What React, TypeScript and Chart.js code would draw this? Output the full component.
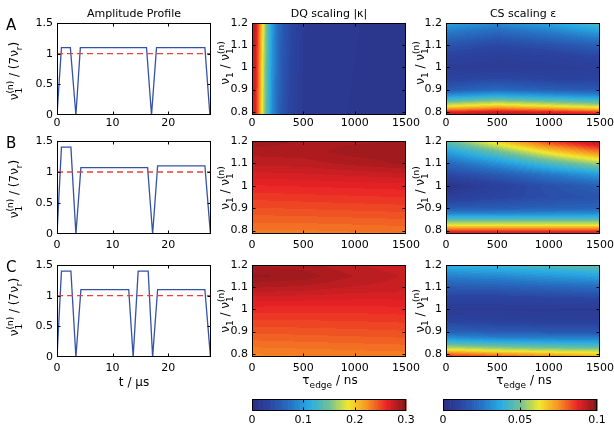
import React, { useEffect, useRef } from "react";
import { Chart, registerables } from "chart.js";
Chart.register(...registerables);

const W = 614;
const H = 429;
const FONT = '"DejaVu Sans", "Liberation Sans", sans-serif';

// ---------------- data ----------------
const timeTicks = [0, 10, 20];
const ampTicks = [0, 0.5, 1, 1.5];
const timeMax = 27.7;
const nominalLevel = 1;

const profileTimeA = [0, 0.8, 2.4, 3.4, 4.2, 16.1, 17.0, 17.9, 26.6, 27.5];
const profileAmpA = [0, 1.1, 1.1, 0, 1.1, 1.1, 0, 1.1, 1.1, 0];
const profileTimeB = [0, 0.8, 2.5, 3.4, 4.3, 16.3, 17.2, 18.1, 26.6, 27.6];
const profileAmpB = [0, 1.4, 1.4, 0, 1.07, 1.07, 0, 1.1, 1.1, 0];
const profileTimeC = [0, 0.8, 2.5, 3.4, 4.3, 12.9, 13.7, 14.6, 16.4, 17.2, 18.1, 26.6, 27.6];
const profileAmpC = [0, 1.4, 1.4, 0, 1.1, 1.1, 0, 1.4, 1.4, 0, 1.1, 1.1, 0];

const tauTicks = [0, 500, 1000, 1500];
const ratioTicks = [0.8, 0.9, 1, 1.1, 1.2];
const tauMax = 1500;
const ratioMin = 0.785;
const ratioMax = 1.2;
const dqTicks = [0, 0.1, 0.2, 0.3];
const dqMax = 0.3;
const csTicks = [0, 0.05, 0.1];
const csMax = 0.1;

// DQ |kappa|, row A (rows = ratio, cols = tau)
const dqTauA = [0, 25, 50, 75, 100, 125, 150, 175, 200, 250, 300, 400, 500, 1500];
const dqRatioA = [0.785, 1.0, 1.2];
const dqA = [
  [0.26, 0.27, 0.25, 0.22, 0.185, 0.155, 0.13, 0.11, 0.09, 0.066, 0.047, 0.028, 0.017, 0.01],
  [0.265, 0.275, 0.255, 0.225, 0.19, 0.16, 0.135, 0.115, 0.095, 0.07, 0.05, 0.03, 0.018, 0.01],
  [0.27, 0.28, 0.26, 0.232, 0.198, 0.167, 0.14, 0.12, 0.1, 0.073, 0.052, 0.032, 0.019, 0.01],
];

const mapTau = [0, 500, 1000, 1500];
const dqRatioBC = [0.785, 0.8, 0.9, 1.0, 1.05, 1.1, 1.15, 1.2];
const dqB = [
  [0.232, 0.232, 0.233, 0.234],
  [0.234, 0.234, 0.235, 0.236],
  [0.248, 0.249, 0.25, 0.251],
  [0.262, 0.263, 0.264, 0.265],
  [0.27, 0.271, 0.273, 0.275],
  [0.278, 0.279, 0.283, 0.287],
  [0.283, 0.284, 0.288, 0.29],
  [0.29, 0.285, 0.285, 0.286],
];
const dqC = [
  [0.228, 0.229, 0.23, 0.231],
  [0.23, 0.231, 0.232, 0.233],
  [0.245, 0.246, 0.247, 0.248],
  [0.26, 0.26, 0.26, 0.261],
  [0.27, 0.269, 0.268, 0.268],
  [0.282, 0.28, 0.276, 0.274],
  [0.292, 0.289, 0.281, 0.276],
  [0.285, 0.283, 0.277, 0.273],
];

const csRatio = [0.785, 0.8, 0.81, 0.825, 0.85, 0.875, 0.9, 0.95, 1.0, 1.05, 1.1, 1.15, 1.2];
const csA = [
  [0.095, 0.097, 0.095, 0.092],
  [0.087, 0.09, 0.087, 0.083],
  [0.076, 0.081, 0.077, 0.071],
  [0.062, 0.068, 0.063, 0.058],
  [0.046, 0.051, 0.047, 0.043],
  [0.031, 0.036, 0.032, 0.029],
  [0.018, 0.022, 0.019, 0.017],
  [0.01, 0.012, 0.01, 0.01],
  [0.007, 0.007, 0.007, 0.008],
  [0.01, 0.008, 0.009, 0.012],
  [0.016, 0.012, 0.015, 0.02],
  [0.025, 0.02, 0.025, 0.032],
  [0.035, 0.03, 0.036, 0.045],
];
const csB = [
  [0.092, 0.092, 0.092, 0.092],
  [0.084, 0.084, 0.084, 0.084],
  [0.075, 0.075, 0.075, 0.075],
  [0.062, 0.062, 0.062, 0.062],
  [0.046, 0.046, 0.046, 0.046],
  [0.03, 0.03, 0.031, 0.032],
  [0.018, 0.019, 0.02, 0.021],
  [0.008, 0.011, 0.014, 0.016],
  [0.003, 0.009, 0.015, 0.02],
  [0.012, 0.018, 0.026, 0.034],
  [0.022, 0.032, 0.044, 0.055],
  [0.034, 0.048, 0.064, 0.077],
  [0.047, 0.067, 0.085, 0.097],
];
const csC = [
  [0.088, 0.083, 0.078, 0.072],
  [0.078, 0.073, 0.068, 0.065],
  [0.069, 0.064, 0.061, 0.059],
  [0.058, 0.054, 0.051, 0.049],
  [0.043, 0.04, 0.038, 0.037],
  [0.03, 0.027, 0.026, 0.026],
  [0.02, 0.018, 0.017, 0.017],
  [0.01, 0.009, 0.008, 0.008],
  [0.006, 0.006, 0.006, 0.006],
  [0.01, 0.01, 0.011, 0.012],
  [0.018, 0.019, 0.021, 0.023],
  [0.028, 0.03, 0.033, 0.036],
  [0.04, 0.042, 0.045, 0.048],
];

// ---------------- colour map ----------------
const CMAP = [
  [44, 46, 131],
  [42, 72, 164],
  [38, 114, 196],
  [40, 172, 228],
  [112, 192, 150],
  [242, 232, 44],
  [246, 146, 34],
  [234, 34, 38],
  [128, 22, 26],
];
const LEVELS = 64;
function cmapColor(f: number): number[] {
  const g = Math.max(0, Math.min(1, f));
  const p = g * (CMAP.length - 1);
  const i = Math.min(Math.floor(p), CMAP.length - 2);
  const u = p - i;
  return CMAP[i].map((c, k) => Math.round(c + (CMAP[i + 1][k] - c) * u));
}
function levelColor(v: number, max: number) {
  const L = Math.min(LEVELS - 1, Math.max(0, Math.floor((v / max) * LEVELS)));
  return cmapColor((L + 0.5) / LEVELS);
}
function locate(xs: number[], v: number): [number, number, number] {
  const n = xs.length;
  if (v <= xs[0]) return [0, 0, 0];
  if (v >= xs[n - 1]) return [n - 1, n - 1, 0];
  let i = 0;
  while (xs[i + 1] < v) i++;
  return [i, i + 1, (v - xs[i]) / (xs[i + 1] - xs[i])];
}
function sample(taus: number[], ratios: number[], z: number[][], t: number, r: number) {
  const [i0, i1, fx] = locate(taus, t);
  const [j0, j1, fy] = locate(ratios, r);
  const a = z[j0][i0] * (1 - fx) + z[j0][i1] * fx;
  const b = z[j1][i0] * (1 - fx) + z[j1][i1] * fx;
  return a * (1 - fy) + b * fy;
}

// ---------------- rich text ----------------
type Seg = { t: string; sub?: string; sup?: string };
type TextItem = { segs: Seg[]; x: number; y: number; size: number; rotate?: boolean; align?: "left" | "center" };

function drawRich(ctx: CanvasRenderingContext2D, it: TextItem) {
  const main = `${it.size}px ${FONT}`;
  const small = `${Math.round(it.size * 0.72)}px ${FONT}`;
  ctx.save();
  ctx.translate(it.x, it.y);
  if (it.rotate) ctx.rotate(-Math.PI / 2);
  ctx.fillStyle = "#000";
  ctx.textBaseline = "alphabetic";
  ctx.textAlign = "left";
  const widths = it.segs.map((s) => {
    ctx.font = main;
    const w = ctx.measureText(s.t).width;
    ctx.font = small;
    const ws = Math.max(s.sub ? ctx.measureText(s.sub).width : 0, s.sup ? ctx.measureText(s.sup).width : 0);
    return [w, ws];
  });
  const total = widths.reduce((acc, [a, b]) => acc + a + b, 0);
  let cx = it.align === "left" ? 0 : -total / 2;
  it.segs.forEach((s, i) => {
    ctx.font = main;
    ctx.fillText(s.t, cx, 0);
    cx += widths[i][0];
    ctx.font = small;
    if (s.sub) ctx.fillText(s.sub, cx, it.size * 0.3);
    if (s.sup) ctx.fillText(s.sup, cx, -it.size * 0.45);
    cx += widths[i][1];
  });
  ctx.restore();
}

let pid = 0;
function makeTexts(items: TextItem[]) {
  return {
    id: "texts" + pid++,
    afterDraw(chart: any) {
      items.forEach((it) => drawRich(chart.ctx, it));
    },
  };
}

function makeFrame(yTicks: boolean) {
  return {
    id: "frame" + pid++,
    afterDraw(chart: any) {
      const { ctx, chartArea: a, scales } = chart;
      const L = Math.round(a.left) + 0.5;
      const T = Math.round(a.top) + 0.5;
      const R = Math.round(a.right) - 0.5;
      const B = Math.round(a.bottom) - 0.5;
      ctx.save();
      ctx.strokeStyle = "#000";
      ctx.lineWidth = 1;
      ctx.strokeRect(L, T, R - L, B - T);
      ctx.beginPath();
      const len = 3;
      scales.x.ticks.forEach((t: any) => {
        const px = Math.round(scales.x.getPixelForValue(t.value)) + 0.5;
        if (px <= L + 1 || px >= R - 1) return;
        ctx.moveTo(px, B);
        ctx.lineTo(px, B - len);
        ctx.moveTo(px, T);
        ctx.lineTo(px, T + len);
      });
      if (yTicks) {
        scales.y.ticks.forEach((t: any) => {
          const py = Math.round(scales.y.getPixelForValue(t.value)) + 0.5;
          if (py <= T + 1 || py >= B - 1) return;
          ctx.moveTo(L, py);
          ctx.lineTo(L + len, py);
          ctx.moveTo(R, py);
          ctx.lineTo(R - len, py);
        });
      }
      ctx.stroke();
      ctx.restore();
    },
  };
}

function makeHeat(taus: number[], ratios: number[], z: number[][], max: number) {
  return {
    id: "heat" + pid++,
    beforeDatasetsDraw(chart: any) {
      const { ctx, chartArea: a, scales } = chart;
      const x = scales.x;
      const y = scales.y;
      const L = Math.round(a.left);
      const T = Math.round(a.top);
      const w = Math.round(a.right) - L;
      const h = Math.round(a.bottom) - T;
      const img = ctx.createImageData(w, h);
      for (let py = 0; py < h; py++) {
        const r = y.getValueForPixel(T + py + 0.5);
        for (let px = 0; px < w; px++) {
          const t = x.getValueForPixel(L + px + 0.5);
          const c = levelColor(sample(taus, ratios, z, t, r), max);
          const k = (py * w + px) * 4;
          img.data[k] = c[0];
          img.data[k + 1] = c[1];
          img.data[k + 2] = c[2];
          img.data[k + 3] = 255;
        }
      }
      ctx.putImageData(img, L, T);
    },
  };
}

function makeBar(max: number) {
  return {
    id: "bar" + pid++,
    beforeDatasetsDraw(chart: any) {
      const { ctx, chartArea: a, scales } = chart;
      const x = scales.x;
      for (let i = 0; i < LEVELS; i++) {
        const x0 = x.getPixelForValue((i / LEVELS) * max);
        const x1 = x.getPixelForValue(((i + 1) / LEVELS) * max);
        const c = cmapColor((i + 0.5) / LEVELS);
        ctx.fillStyle = `rgb(${c[0]},${c[1]},${c[2]})`;
        ctx.fillRect(x0, a.top, x1 - x0 + 0.6, a.bottom - a.top);
      }
    },
  };
}

const fmt = (v: any) => String(Math.round(Number(v) * 1000) / 1000);

const YW = 44; // reserved y-axis width
function axis(min: number, max: number, ticks: number[], pad: number, size: number, display = true) {
  return {
    type: "linear",
    display,
    min,
    max,
    grid: { display: false, drawTicks: false },
    border: { display: false },
    ticks: {
      padding: pad,
      color: "#000",
      font: { family: FONT, size: 11 },
      autoSkip: false,
      maxRotation: 0,
      minRotation: 0,
      callback: fmt,
    },
    afterBuildTicks: (s: any) => {
      s.ticks = ticks.map((value) => ({ value }));
    },
    afterFit: (s: any) => {
      if (s.isHorizontal()) s.height = size;
      else s.width = size;
      s.paddingLeft = 0;
      s.paddingRight = 0;
      s.paddingTop = 0;
      s.paddingBottom = 0;
    },
  };
}

type Rect = [number, number, number, number]; // x0, x1, y0, y1

function base(rect: Rect, xh: number, yw: number, scales: any, datasets: any[], plugins: any[]) {
  return {
    type: "scatter",
    data: { datasets },
    options: {
      responsive: false,
      animation: false,
      devicePixelRatio: 1,
      events: [],
      layout: { padding: { left: rect[0] - yw, right: W - rect[1], top: rect[2], bottom: H - rect[3] - xh } },
      plugins: { legend: { display: false }, tooltip: { enabled: false }, title: { display: false } },
      scales,
    },
    plugins,
  };
}

const COLS = { left: [57, 211], mid: [252, 406], right: [446, 600] };
const ROWS = [
  [23, 115],
  [141, 234],
  [265, 357],
];
const XPAD = [2, 5, 5];
const XH = 22;

const yTitleLeft: Seg[] = [{ t: "ν", sub: "1", sup: "(n)" }, { t: " / (7ν", sub: "r" }, { t: ")" }];
const yTitleMap: Seg[] = [{ t: "ν", sub: "1" }, { t: " / " }, { t: "ν", sub: "1", sup: "(n)" }];
const xTitleMap: Seg[] = [{ t: "τ", sub: "edge" }, { t: " / ns" }];

function lineChart(row: number, times: number[], amps: number[], letter: string) {
  const rect: Rect = [COLS.left[0], COLS.left[1], ROWS[row][0], ROWS[row][1]];
  const texts: TextItem[] = [
    { segs: [{ t: letter }], x: 6, y: ROWS[row][0] + 7, size: 15, align: "left" },
    { segs: yTitleLeft, x: 18, y: [71, 189, 307][row], size: 12, rotate: true },
  ];
  if (row === 0) texts.push({ segs: [{ t: "Amplitude Profile" }], x: 134, y: 17, size: 11 });
  if (row === 2) texts.push({ segs: [{ t: "t / µs" }], x: 134, y: 386, size: 12 });
  const datasets = [
    {
      data: [
        { x: 0, y: nominalLevel },
        { x: timeMax, y: nominalLevel },
      ],
      showLine: true,
      borderColor: "#e8423c",
      borderWidth: 1.3,
      borderDash: [6, 4],
      pointRadius: 0,
    },
    {
      data: times.map((t, i) => ({ x: t, y: amps[i] })),
      showLine: true,
      borderColor: "#3452a6",
      borderWidth: 1.3,
      pointRadius: 0,
    },
  ];
  return base(
    rect,
    XH,
    YW,
    { x: axis(0, timeMax, timeTicks, XPAD[row], XH), y: axis(0, 1.5, ampTicks, 4, YW) },
    datasets,
    [makeFrame(true), makeTexts(texts)]
  );
}

function mapChart(col: "mid" | "right", row: number, taus: number[], ratios: number[], z: number[][], max: number, title: string) {
  const rect: Rect = [COLS[col][0], COLS[col][1], ROWS[row][0], ROWS[row][1]];
  const cx = (COLS[col][0] + COLS[col][1]) / 2;
  const texts: TextItem[] = [
    { segs: yTitleMap, x: col === "mid" ? 229 : 424, y: [63, 188, 311][row], size: 12, rotate: true },
  ];
  if (row === 0) texts.push({ segs: [{ t: title }], x: cx, y: 17, size: 11 });
  if (row === 2) texts.push({ segs: xTitleMap, x: cx + 1, y: 384, size: 12 });
  return base(
    rect,
    XH,
    YW,
    { x: axis(0, tauMax, tauTicks, XPAD[row], XH), y: axis(ratioMin, ratioMax, ratioTicks, 4, YW) },
    [],
    [makeHeat(taus, ratios, z, max), makeFrame(true), makeTexts(texts)]
  );
}

function barChart(x0: number, x1: number, ticks: number[], max: number) {
  const rect: Rect = [x0, x1, 399, 411];
  return base(
    rect,
    17,
    0,
    { x: axis(0, max, ticks, 3, 17), y: axis(0, 1, [0, 1], 0, 0, false) },
    [],
    [makeBar(max), makeFrame(false)]
  );
}

const CONFIGS = [
  () => lineChart(0, profileTimeA, profileAmpA, "A"),
  () => lineChart(1, profileTimeB, profileAmpB, "B"),
  () => lineChart(2, profileTimeC, profileAmpC, "C"),
  () => mapChart("mid", 0, dqTauA, dqRatioA, dqA, dqMax, "DQ scaling |κ|"),
  () => mapChart("mid", 1, mapTau, dqRatioBC, dqB, dqMax, ""),
  () => mapChart("mid", 2, mapTau, dqRatioBC, dqC, dqMax, ""),
  () => mapChart("right", 0, mapTau, csRatio, csA, csMax, "CS scaling ε"),
  () => mapChart("right", 1, mapTau, csRatio, csB, csMax, ""),
  () => mapChart("right", 2, mapTau, csRatio, csC, csMax, ""),
  () => barChart(252, 406, dqTicks, dqMax),
  () => barChart(443, 597, csTicks, csMax),
];

function Panel({ make }: { make: () => any }) {
  const ref = useRef<HTMLCanvasElement>(null);
  useEffect(() => {
    const chart = new Chart(ref.current as HTMLCanvasElement, make());
    return () => chart.destroy();
  }, [make]);
  return (
    <canvas
      ref={ref}
      width={W}
      height={H}
      style={{ position: "absolute", left: 0, top: 0, width: W, height: H }}
    />
  );
}

export default function App() {
  Chart.defaults.font.family = FONT;
  return (
    <div style={{ position: "fixed", left: 0, top: 0, width: W, height: H, background: "#fff", overflow: "hidden" }}>
      {CONFIGS.map((m, i) => (
        <Panel key={i} make={m} />
      ))}
    </div>
  );
}
